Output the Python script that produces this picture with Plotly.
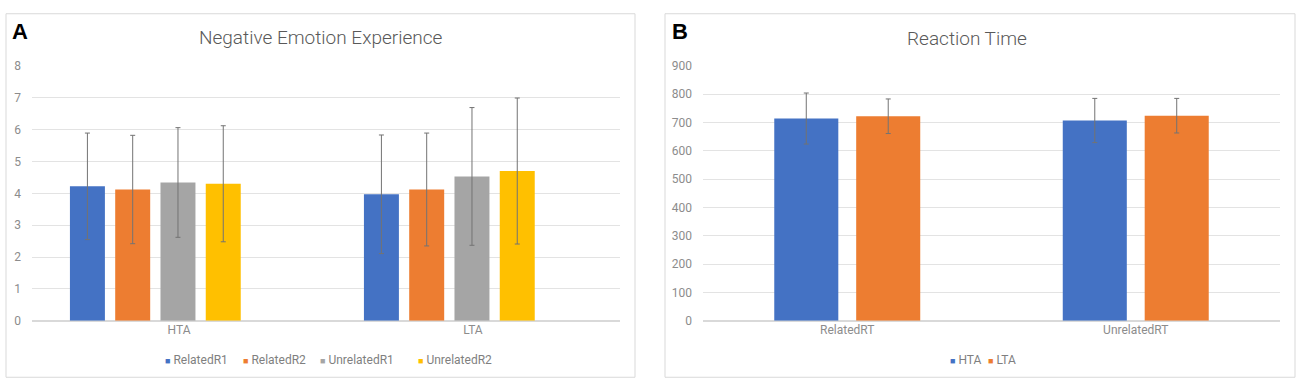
import plotly.graph_objects as go

# ---- Data ----
groups_a = ["HTA", "LTA"]
series_a = ["RelatedR1", "RelatedR2", "UnrelatedR1", "UnrelatedR2"]
vals_a = {
    "RelatedR1": [4.22, 3.97],
    "RelatedR2": [4.12, 4.12],
    "UnrelatedR1": [4.34, 4.53],
    "UnrelatedR2": [4.30, 4.70],
}
err_a = {
    "RelatedR1": [1.67, 1.86],
    "RelatedR2": [1.70, 1.77],
    "UnrelatedR1": [1.72, 2.16],
    "UnrelatedR2": [1.82, 2.29],
}
colors_a = ["#4472C4", "#ED7D31", "#A5A5A5", "#FFC000"]

groups_b = ["RelatedRT", "UnrelatedRT"]
series_b = ["HTA", "LTA"]
vals_b = {"HTA": [714, 707], "LTA": [722, 724]}
err_b = {"HTA": [90, 78], "LTA": [61, 61]}
colors_b = ["#4472C4", "#ED7D31"]

W, H = 1300, 391
FONT = "Roboto"
TICKC = "#8C8C8C"
GRID = "#E3E3E3"
ERRC = "#737373"

def py(px):
    return (H - px) / H

def px_(x):
    return x / W

fig = go.Figure()

# Panel A: 5 slots per category (last one empty, as in the original chart)
slot_a = 0.154
bw_a = 0.119
start_a = -0.371
for i, s in enumerate(series_a):
    fig.add_trace(go.Bar(
        x=groups_a, y=vals_a[s], name=s,
        marker=dict(color=colors_a[i], line=dict(width=0)),
        width=bw_a, offset=start_a + i * slot_a,
        error_y=dict(type="data", array=err_a[s], visible=True,
                     color=ERRC, thickness=1, width=2.5),
        xaxis="x", yaxis="y", showlegend=False,
    ))

slot_b = 0.284
bw_b = 0.222
start_b = -0.253
for i, s in enumerate(series_b):
    fig.add_trace(go.Bar(
        x=groups_b, y=vals_b[s], name=s,
        marker=dict(color=colors_b[i], line=dict(width=0)),
        width=bw_b, offset=start_b + i * slot_b,
        error_y=dict(type="data", array=err_b[s], visible=True,
                     color=ERRC, thickness=1, width=2.5),
        xaxis="x2", yaxis="y2", showlegend=False,
    ))

ydom = [py(325.5), py(61)]
axis_font = dict(family=FONT, size=12, color=TICKC)

annotations = [
    dict(text="Negative Emotion Experience", xref="paper", yref="paper",
         x=px_(320.5), y=py(31.5), xanchor="center", yanchor="middle",
         showarrow=False, font=dict(family=FONT, size=19, color="#595959", weight=300)),
    dict(text="Reaction Time", xref="paper", yref="paper",
         x=px_(967), y=py(33), xanchor="center", yanchor="middle",
         showarrow=False, font=dict(family=FONT, size=19, color="#595959", weight=300)),
    dict(text="<b>A</b>", xref="paper", yref="paper",
         x=px_(10), y=py(25.5), xanchor="left", yanchor="middle",
         showarrow=False, font=dict(family="Liberation Sans", size=22, color="black")),
    dict(text="<b>B</b>", xref="paper", yref="paper",
         x=px_(670), y=py(25.5), xanchor="left", yanchor="middle",
         showarrow=False, font=dict(family="Liberation Sans", size=22, color="black")),
]

# Excel-style legends: small coloured square + label
leg_x_a = [163, 240.5, 318, 415.5]
for i, s in enumerate(series_a):
    annotations.append(dict(
        text=f"<span style='color:{colors_a[i]};font-size:9px'>■</span> {s}",
        xref="paper", yref="paper", x=px_(leg_x_a[i]), y=py(366),
        xanchor="left", yanchor="middle", showarrow=False,
        font=dict(family=FONT, size=12, color="#7F7F7F")))
leg_x_b = [947.5, 986]
for i, s in enumerate(series_b):
    annotations.append(dict(
        text=f"<span style='color:{colors_b[i]};font-size:9px'>■</span> {s}",
        xref="paper", yref="paper", x=px_(leg_x_b[i]), y=py(366),
        xanchor="left", yanchor="middle", showarrow=False,
        font=dict(family=FONT, size=12, color="#7F7F7F")))

fig.update_layout(
    width=W, height=H,
    margin=dict(l=0, r=0, t=0, b=0),
    paper_bgcolor="white", plot_bgcolor="white",
    barmode="overlay",
    showlegend=False,
    font=dict(family=FONT, color=TICKC),
    xaxis=dict(domain=[px_(32), px_(620)], showgrid=False, showline=False,
               ticks="", tickfont=axis_font, anchor="y"),
    yaxis=dict(domain=ydom, range=[0, 8], dtick=1, showgrid=True,
               gridcolor=GRID, gridwidth=1, zeroline=True, zerolinecolor="#D9D9D9",
               showline=False, ticks="", tickfont=axis_font, anchor="x",
               ticklabelstandoff=10),
    xaxis2=dict(domain=[px_(703), px_(1280)], showgrid=False, showline=False,
                ticks="", tickfont=axis_font, anchor="y2"),
    yaxis2=dict(domain=ydom, range=[0, 900], dtick=100, showgrid=True,
                gridcolor=GRID, gridwidth=1, zeroline=True, zerolinecolor="#D9D9D9",
                showline=False, ticks="", tickfont=axis_font, anchor="x2",
                ticklabelstandoff=10),
    shapes=[
        dict(type="rect", xref="paper", yref="paper",
             x0=px_(6), x1=px_(635), y0=py(384), y1=py(7),
             line=dict(color="#D9D9D9", width=1), fillcolor="rgba(0,0,0,0)", layer="below"),
        dict(type="rect", xref="paper", yref="paper",
             x0=px_(665), x1=px_(1295), y0=py(384), y1=py(7),
             line=dict(color="#D9D9D9", width=1), fillcolor="rgba(0,0,0,0)", layer="below"),
    ],
    annotations=annotations,
)

fig.write_html("out.html", config={"displayModeBar": False},
               post_script="document.body.style.margin='0';document.documentElement.style.overflow='hidden';")
